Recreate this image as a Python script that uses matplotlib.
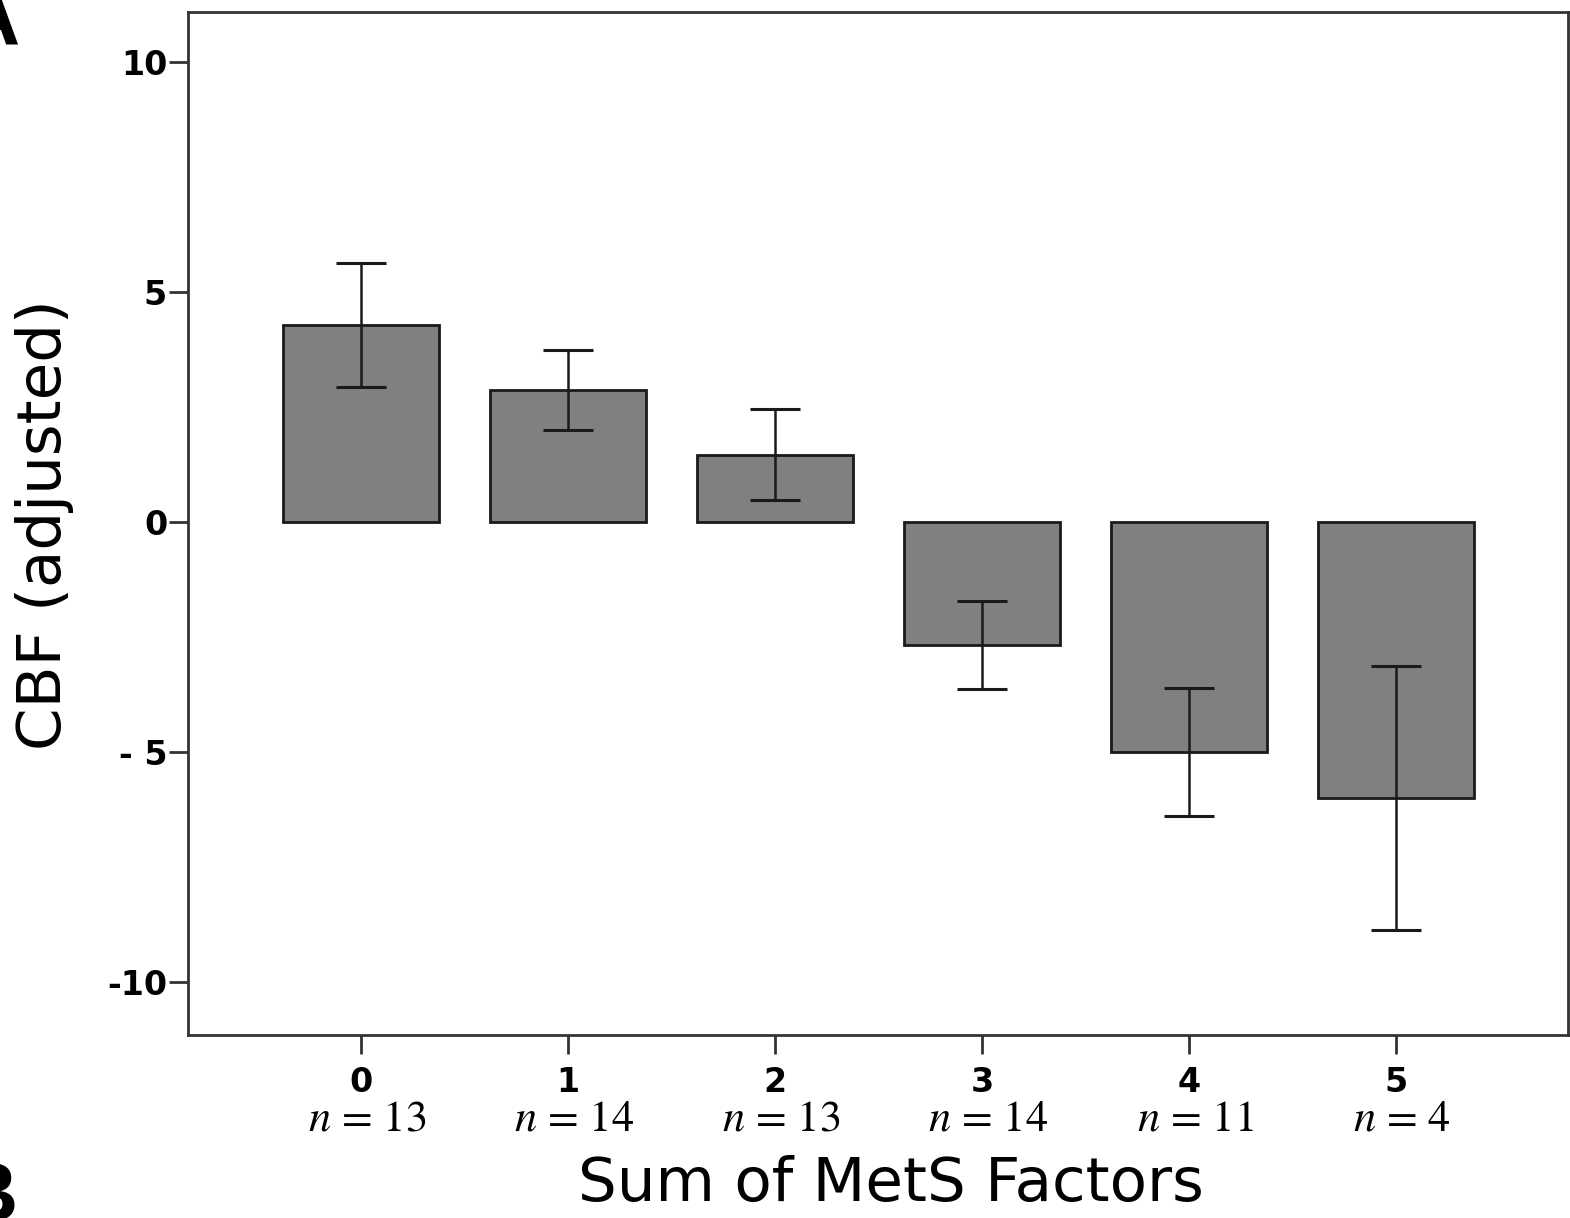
import numpy as np
import matplotlib.pyplot as plt

# data
factors = ['0', '1', '2', '3', '4', '5']
n_counts = [13, 14, 13, 14, 11, 4]
cbf_means = [4.28, 2.87, 1.46, -2.67, -5.0, -6.0]
cbf_err = [1.34, 0.87, 0.99, 0.96, 1.39, 2.86]
yticks = [10, 5, 0, -5, -10]
ytick_labels = ['10', '5', '0', '- 5', '-10']

plt.rcParams['mathtext.fontset'] = 'stix'

fig = plt.figure(figsize=(15.7, 12.18), dpi=100)
ax = fig.add_axes([188 / 1570, 1 - 1035 / 1218, 1380 / 1570, 1023 / 1218])

x = np.arange(len(factors))
ax.bar(x, cbf_means, width=0.755, color='#808080', edgecolor='#1a1a1a', linewidth=2)
ax.errorbar(x, cbf_means, yerr=cbf_err, fmt='none', ecolor='#1a1a1a',
            elinewidth=1.8, capsize=18, capthick=2.2)

ax.set_xlim(-0.836, 5.83)
ax.set_ylim(-11.15, 11.08)

ax.set_yticks(yticks)
ax.set_yticklabels(ytick_labels, fontsize=24, fontweight='bold', family='DejaVu Sans')
ax.set_xticks(x)
ax.set_xticklabels(factors, fontsize=24, fontweight='bold', family='DejaVu Sans')
ax.tick_params(axis='both', direction='out', length=14, width=2, color='#333333', pad=1)
ax.tick_params(axis='x', pad=8)

for s in ax.spines.values():
    s.set_color('#333333')
    s.set_linewidth(2)

# n labels under the category ticks
for xi, n in zip(x, n_counts):
    ax.text(xi + 0.03, -0.083, f'$n$ = {n}', transform=ax.get_xaxis_transform(),
            ha='center', va='center', fontsize=32, family='STIXGeneral')

fig.text(891 / 1570, 1 - 1185 / 1218, 'Sum of MetS Factors', ha='center', va='center',
         fontsize=44, family='DejaVu Sans')
fig.text(45 / 1570, 1 - 525 / 1218, 'CBF (adjusted)', ha='center', va='center',
         rotation=90, fontsize=44, family='DejaVu Sans')

# panel letters, cut off at the edges as in the source panel
fig.text(20 / 1570, 1 - 45 / 1218, 'A', ha='right', va='baseline',
         fontsize=60, fontweight='bold', family='Liberation Sans')
fig.text(18 / 1570, 1 - 1160 / 1218, 'B', ha='right', va='top',
         fontsize=60, fontweight='bold', family='Liberation Sans')

fig.savefig('out.png', dpi=100)
